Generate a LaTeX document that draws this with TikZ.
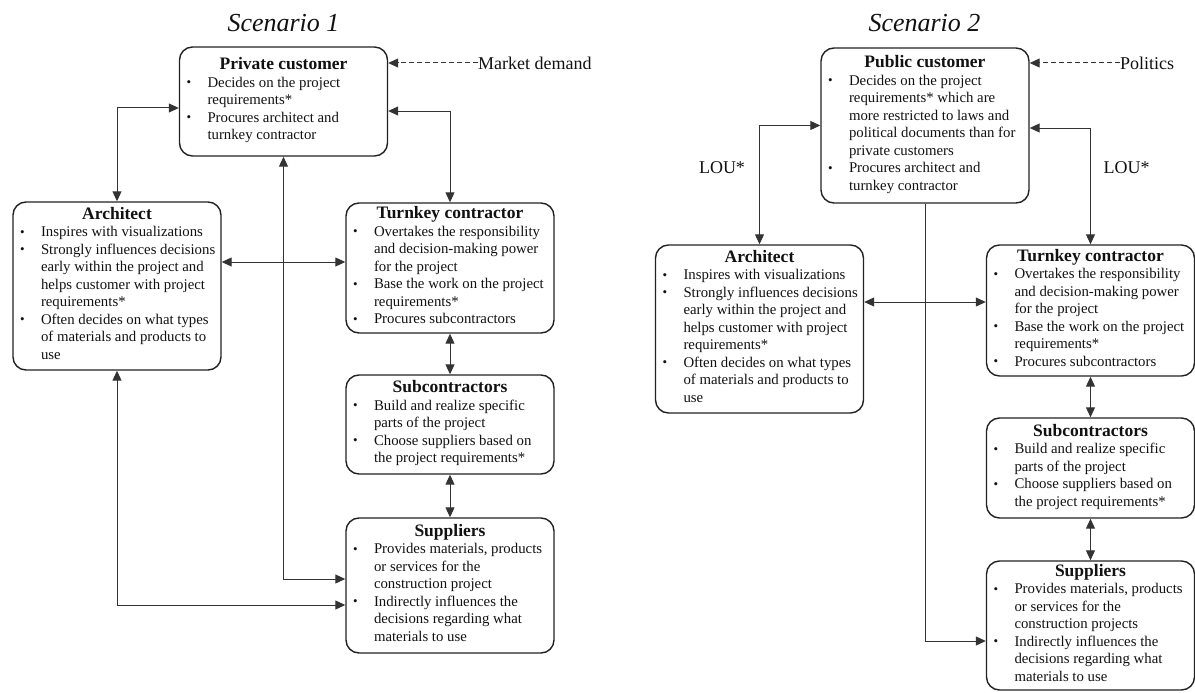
\documentclass[tikz,border=0pt]{standalone}
\usepackage{fontspec}
\setmainfont{Liberation Serif}
\usetikzlibrary{arrows.meta,calc}
\definecolor{boxc}{HTML}{222222}
\definecolor{linec}{HTML}{333333}
\definecolor{txtc}{HTML}{111111}
\newcommand{\bitem}[1]{\par\noindent\hspace*{3pt}\makebox[21pt][l]{\raisebox{0.5pt}{\fontsize{13}{13}\selectfont\textbullet}}\begin{tabular}[t]{@{}l@{}}#1\end{tabular}\par}
\newcommand{\boxtext}[2]{\begin{minipage}{200pt}\lineskip=0pt\lineskiplimit=0pt
{\centering\fontsize{17.5}{21}\selectfont\bfseries #1\par}
\fontsize{14.8}{17.5}\selectfont #2\end{minipage}}
\tikzset{
  tip/.tip={Triangle[length=10pt,width=9pt]},
  box/.style={draw=boxc, line width=1.4pt, rounded corners=13pt, inner sep=0pt,
    minimum width=208pt, text=txtc},
  conn/.style={draw=linec, line width=1pt, tip-tip},
  oneway/.style={draw=linec, line width=1pt, -tip},
  dashline/.style={draw=linec, line width=1pt, dash pattern=on 5pt off 3pt, -tip},
  lbl/.style={inner sep=0pt, text=txtc, font=\fontsize{18}{20}\selectfont},
  scen/.style={inner sep=0pt, text=txtc, font=\fontsize{26}{28}\selectfont\itshape}
}
\begin{document}
\begin{tikzpicture}[x=1pt,y=-1pt]
\useasboundingbox (0,0) rectangle (1195,693);
% ---------------- Scenario 1 ----------------
\node[scen] (t1) at (283.5,23) {Scenario 1};
\node[box, minimum height=109pt] (pc1) at (283.5,101.5) {\boxtext{Private customer}{%
\bitem{Decides on the project\\requirements*}
\bitem{Procures architect and\\turnkey contractor}}};
\node[box, minimum height=168pt] (ar1) at (117,286) {\boxtext{Architect}{%
\bitem{Inspires with visualizations}
\bitem{Strongly influences decisions\\early within the project and\\helps customer with project\\requirements*}
\bitem{Often decides on what types\\of materials and products to\\use}}};
\node[box, minimum height=130pt] (tk1) at (450,268) {\boxtext{Turnkey contractor}{%
\bitem{Overtakes the responsibility\\and decision-making power\\for the project}
\bitem{Base the work on the project\\requirements*}
\bitem{Procures subcontractors}}};
\node[box, minimum height=99pt] (sc1) at (450,424.5) {\boxtext{Subcontractors}{%
\bitem{Build and realize specific\\parts of the project}
\bitem{Choose suppliers based on\\the project requirements*}}};
\node[box, minimum height=135pt] (su1) at (450,585.5) {\boxtext{Suppliers}{%
\bitem{Provides materials, products\\or services for the\\construction project}
\bitem{Indirectly influences the\\decisions regarding what\\materials to use}}};
\node[lbl, anchor=west] (md) at (478,63) {Market demand};
\draw[dashline] (md.west) -- (md.west -| pc1.east);
\draw[conn] (ar1.north) |- ([yshift=-6.5pt]pc1.west);
\draw[conn] ([yshift=-9.5pt]pc1.east) -| (tk1.north);
\draw[conn] ([yshift=24pt]ar1.east) -- ([yshift=24pt]ar1.east -| tk1.west);
\draw[conn] (tk1.south) -- (sc1.north);
\draw[conn] (sc1.south) -- (su1.north);
\draw[conn] (pc1.south) |- ([yshift=6.5pt]su1.west);
\draw[conn] (ar1.south) |- ([yshift=-19.5pt]su1.west);
% ---------------- Scenario 2 ----------------
\node[scen] (t2) at (924.5,23) {Scenario 2};
\node[box, minimum height=155pt] (pc2) at (925,125.5) {\boxtext{Public customer}{%
\bitem{Decides on the project\\requirements* which are\\more restricted to laws and\\political documents than for\\private customers}
\bitem{Procures architect and\\turnkey contractor}}};
\node[box, minimum height=168pt] (ar2) at (759.5,329) {\boxtext{Architect}{%
\bitem{Inspires with visualizations}
\bitem{Strongly influences decisions\\early within the project and\\helps customer with project\\requirements*}
\bitem{Often decides on what types\\of materials and products to\\use}}};
\node[box, minimum height=131pt] (tk2) at (1090.5,310.5) {\boxtext{Turnkey contractor}{%
\bitem{Overtakes the responsibility\\and decision-making power\\for the project}
\bitem{Base the work on the project\\requirements*}
\bitem{Procures subcontractors}}};
\node[box, minimum height=100pt] (sc2) at (1090.5,468) {\boxtext{Subcontractors}{%
\bitem{Build and realize specific\\parts of the project}
\bitem{Choose suppliers based on\\the project requirements*}}};
\node[box, minimum height=129pt] (su2) at (1090.5,625.5) {\boxtext{Suppliers}{%
\bitem{Provides materials, products\\or services for the\\construction projects}
\bitem{Indirectly influences the\\decisions regarding what\\materials to use}}};
\node[lbl, anchor=west] (pol) at (1120,63) {Politics};
\draw[dashline] (pol.west) -- (pol.west -| pc2.east);
\node[lbl] (lou1) at (722,168) {LOU*};
\node[lbl] (lou2) at (1126.5,168) {LOU*};
\draw[conn] (ar2.north) |- (pc2.west);
\draw[conn] ([yshift=-2.5pt]pc2.east) -| (tk2.north);
\draw[conn] ([yshift=27pt]ar2.east) -- ([yshift=27pt]ar2.east -| tk2.west);
\draw[conn] (tk2.south) -- (sc2.north);
\draw[conn] (sc2.south) -- (su2.north);
\draw[oneway] (pc2.south) |- ([yshift=-15.5pt]su2.west);
\end{tikzpicture}
\end{document}
